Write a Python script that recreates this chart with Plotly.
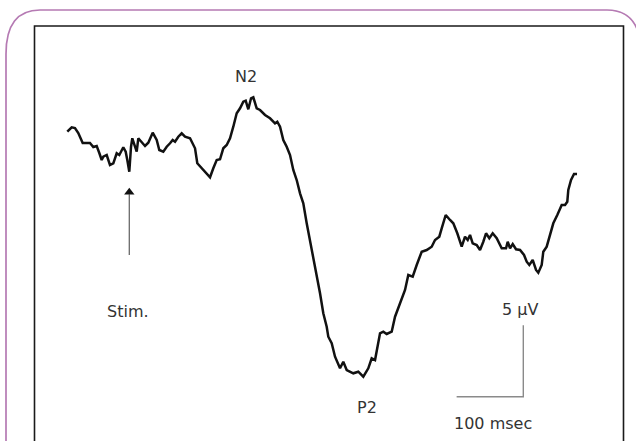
import plotly.graph_objects as go

# ERP waveform: time (ms, relative to stimulus) and amplitude (µV, negative plotted up)
time_ms = [-93.0, -86.4, -81.5, -76.5, -69.9, -59.0, -54.0, -48.9, -45.0, -41.4,
           -39.0, -33.9, -29.0, -24.0, -18.9, -15.0, -9.0, -5.4, -3.0, 0.0,
           2.6, 4.5, 8.6, 11.1, 13.5, 18.6, 23.6, 28.5, 35.1, 41.1,
           45.0, 51.0, 56.1, 61.1, 65.1, 68.6, 73.5, 78.6, 83.6, 91.1,
           98.6, 102.0, 108.6, 116.1, 121.1, 126.0, 131.1, 136.1, 141.0, 146.1,
           151.1, 156.0, 161.1, 166.1, 171.0, 174.6, 178.5, 182.6, 186.0, 191.1,
           196.1, 203.6, 211.1, 218.6, 222.0, 226.1, 231.0, 236.1, 241.1, 246.0,
           251.1, 256.1, 261.0, 266.1, 271.1, 276.0, 281.1, 286.1, 291.0, 296.1,
           298.5, 303.6, 308.6, 316.1, 321.0, 326.1, 336.0, 343.5, 351.0, 358.5,
           363.6, 368.6, 376.1, 381.0, 386.1, 393.6, 398.6, 406.1, 413.6, 418.5,
           425.1, 431.1, 438.6, 446.1, 453.6, 458.6, 465.0, 468.6, 474.6, 481.1,
           486.0, 492.0, 498.6, 503.6, 507.6, 511.1, 515.1, 521.1, 526.1, 531.0,
           535.1, 540.0, 545.1, 551.1, 558.6, 565.1, 567.6, 571.1, 575.1, 580.1,
           586.1, 592.1, 596.1, 600.0, 605.1, 610.1, 613.5, 618.6, 621.0, 626.1,
           630.0, 636.0, 642.0, 648.6, 653.6, 657.0, 658.5, 662.6, 667.1, 671.6]
amp_uv = [-0.93, -1.24, -1.19, -0.84, -0.14, -0.14, 0.14, 0.07, 0.56, 1.05,
          0.82, 0.70, 1.40, 1.28, 0.58, 0.70, 0.16, 0.47, 1.05, 1.87,
          0.12, -0.47, 0.12, 0.47, -0.47, -0.23, 0.07, -0.16, -0.86, -0.35,
          0.35, 0.47, 0.12, -0.12, -0.35, -0.23, -0.58, -0.82, -0.58, -0.47,
          0.23, 1.28, 1.63, 1.98, 2.26, 1.63, 1.05, 1.00, 0.23, 0.00,
          -0.47, -1.28, -2.22, -2.57, -3.03, -3.10, -2.50, -3.27, -3.34, -2.57,
          -2.45, -2.10, -1.87, -1.52, -1.63, -1.28, -0.35, 0.12, 0.70, 1.75,
          2.45, 3.38, 4.08, 5.48, 6.65, 8.05, 8.98, 10.38, 11.78, 12.72,
          13.42, 13.88, 14.82, 15.63, 15.17, 15.75, 15.98, 15.87, 16.22, 15.63,
          14.93, 15.05, 13.18, 13.07, 13.23, 13.07, 12.02, 11.08, 10.15, 9.10,
          9.22, 8.40, 7.47, 7.35, 7.12, 6.65, 6.42, 5.83, 4.90, 5.25,
          5.48, 6.18, 7.12, 6.42, 6.65, 6.30, 6.88, 7.00, 7.35, 6.77,
          6.18, 6.53, 6.18, 6.53, 7.23, 7.23, 6.77, 7.23, 6.93, 7.30,
          7.35, 7.70, 8.17, 8.40, 8.05, 8.75, 8.94, 8.40, 7.47, 7.12,
          6.53, 5.48, 4.90, 4.20, 4.20, 3.97, 3.15, 2.45, 2.03, 2.03]

# Scale bar (100 msec horizontal, 5 µV vertical)
scale_t = [491.0, 591.0, 591.0]
scale_v = [17.62, 17.62, 12.62]

# Labels: text, time, amplitude
label_text = ["N2", "P2", "Stim.", "5 µV", "100 msec"]
label_t = [174.6, 356.6, -1.5, 586.0, 545.0]
label_v = [-4.78, 18.40, 11.67, 11.50, 19.50]

# Stimulus arrow (time, head amplitude, tail amplitude)
stim_t = [0.0, 0.0]
stim_v = [3.45, 7.70]
stim_head_v = [3.30]

W, H = 636, 441

def px(x):
    return x / W

def py(y):
    return 1 - y / H

fig = go.Figure()
fig.add_trace(go.Scatter(x=time_ms, y=amp_uv, mode="lines",
                         line=dict(color="#111111", width=2.5),
                         hoverinfo="skip", showlegend=False))
fig.add_trace(go.Scatter(x=scale_t, y=scale_v, mode="lines",
                         line=dict(color="#8a8a8a", width=1.4),
                         hoverinfo="skip", showlegend=False))
fig.add_trace(go.Scatter(x=stim_t, y=stim_v, mode="lines",
                         line=dict(color="#6a6a6a", width=1.3),
                         hoverinfo="skip", showlegend=False))
fig.add_trace(go.Scatter(x=stim_t[:1], y=stim_head_v, mode="markers",
                         marker=dict(symbol="triangle-up", size=9,
                                     color="#111111", line=dict(width=0)),
                         hoverinfo="skip", showlegend=False))

font = dict(family="DejaVu Sans", size=16, color="#333333")
for t, x, y in zip(label_text, label_t, label_v):
    fig.add_annotation(x=x, y=y, xref="x", yref="y", text=t,
                       showarrow=False, font=font)

# Outer rounded purple frame
L, T, R, B = 6, 10, 641, 470
rx, ry = 34, 44
path = (f"M {px(L)},{py(T+ry)} Q {px(L)},{py(T)} {px(L+rx)},{py(T)} "
        f"L {px(R-rx)},{py(T)} Q {px(R)},{py(T)} {px(R)},{py(T+ry)} "
        f"L {px(R)},{py(B)} L {px(L)},{py(B)} Z")
shapes = [
    dict(type="path", xref="paper", yref="paper", path=path,
         line=dict(color="#b57ab3", width=1.7), layer="below"),
    dict(type="rect", xref="paper", yref="paper",
         x0=px(34.5), x1=px(623.5), y0=py(470), y1=py(26),
         line=dict(color="#1a1a1a", width=1.6), layer="below"),
]

fig.update_layout(
    width=W, height=H,
    margin=dict(l=0, r=0, t=0, b=0),
    paper_bgcolor="white", plot_bgcolor="white",
    shapes=shapes,
    xaxis=dict(range=[-193.95, 760.05], visible=False, fixedrange=True),
    yaxis=dict(range=[20.72, -10.15], visible=False, fixedrange=True),
    showlegend=False,
)

fig.write_html("out.html",
               config={"displayModeBar": False, "staticPlot": True},
               post_script="document.body.style.margin='0';"
                           "document.body.style.overflow='hidden';")
